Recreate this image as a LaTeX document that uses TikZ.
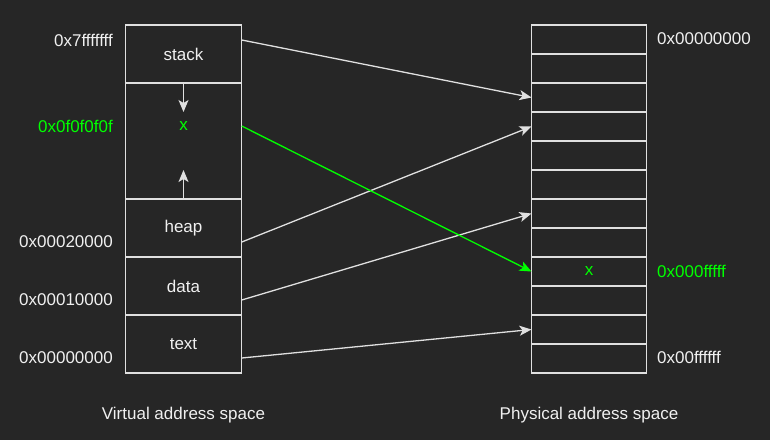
\documentclass[tikz,border=0pt]{standalone}
\usepackage{fontspec}
\setmainfont{Liberation Sans}
\usetikzlibrary{arrows.meta}
\definecolor{bg}{HTML}{262626}
\definecolor{fg}{HTML}{F0F0F0}
\definecolor{ln}{HTML}{E0E0E0}
\definecolor{hot}{HTML}{00FF00}
\begin{document}
\begin{tikzpicture}[x=1pt, y=-1pt, font=\fontsize{17}{20}\selectfont,
  seg/.style={draw=ln, line width=1.4pt, text=fg, minimum width=116.5pt, inner sep=0pt, outer sep=0pt},
  cell/.style={draw=ln, line width=1.4pt, minimum width=115pt, minimum height=29pt, inner sep=0pt, outer sep=0pt},
  map/.style={ln, line width=1.3pt, -{Stealth[length=12pt, width=10pt, inset=3pt]}},
  addr/.style={text=fg, inner sep=0pt}]

\fill[bg] (0,0) rectangle (770,440);
\useasboundingbox (0,0) rectangle (770,440);

% virtual side
\node[seg, minimum height=58pt]  (stack) at (183.5,54)  {stack};
\node[seg, minimum height=116pt] (mid)   at (183.5,141) {};
\node[seg, minimum height=58pt]  (heap)  at (183.5,228) {heap};
\node[seg, minimum height=58pt]  (data)  at (183.5,286) {data};
\node[seg, minimum height=58pt]  (text)  at (183.5,344) {text};
\node[text=hot] (xv) at (183.5,126) {x};

\draw[map] (mid.north) -- ++(0,29);
\draw[map] (mid.south) -- ++(0,-29);

\node[addr, anchor=east] (a7) at (113,40)  {0x7fffffff};
\node[addr, anchor=east, text=hot] (ax) at (113,126) {0x0f0f0f0f};
\node[addr, anchor=east] (a2) at (113,242) {0x00020000};
\node[addr, anchor=east] (a1) at (113,300) {0x00010000};
\node[addr, anchor=east] (a0) at (113,358) {0x00000000};

% physical side
\foreach \i in {1,...,12}
  \node[cell] (p\i) at (589,{25+29*(\i-0.5)}) {};
\node[text=hot] (xp) at (p9) {x};

\node[addr, anchor=west] (r0) at (657,39)  {0x00000000};
\node[addr, anchor=west, text=hot] (rx) at (657,271) {0x000fffff};
\node[addr, anchor=west] (rf) at (657,357) {0x00ffffff};

% mappings
\draw[map] (stack.east |- a7.east) -- (p3.west);
\draw[map] (heap.east |- a2.east) -- (p4.west);
\draw[map] (data.east |- a1.east) -- (p7.west);
\draw[map] (text.east |- a0.east) -- (p11.west);
\draw[map, hot] (mid.east |- xv) -- (p9.west);

\node[addr] (vcap) at (183.5,415) {Virtual address space};
\node[addr] (pcap) at (589,415) {Physical address space};

\end{tikzpicture}
\end{document}
